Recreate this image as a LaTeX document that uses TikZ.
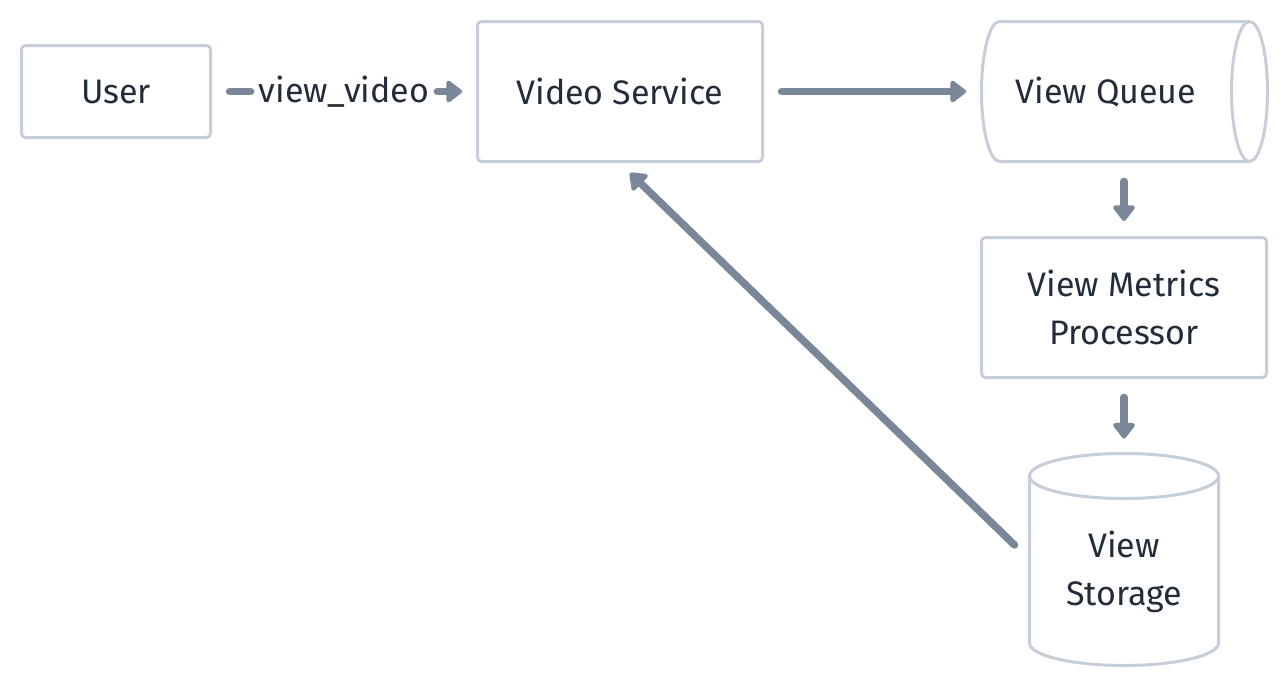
\documentclass[tikz,border=0pt]{standalone}
\usepackage{fontspec}
\setmainfont{Fira Sans}
\usetikzlibrary{arrows.meta,calc}
\definecolor{bordc}{HTML}{C6CFD9}
\definecolor{arrc}{HTML}{7A8798}
\definecolor{txtc}{HTML}{232D3A}
\begin{document}
\begin{tikzpicture}[x=1pt,y=-1pt,
  every node/.style={font=\fontsize{34}{48}\selectfont, text=txtc},
  box/.style={draw=bordc, line width=3pt, rounded corners=4pt, fill=white, align=center, inner sep=0pt},
  ghost/.style={draw=none, line width=3pt, inner sep=0pt},
  cyl/.style={draw=bordc, line width=3pt},
  seg/.style={draw=arrc, line width=7.5pt, line cap=round},
  conn/.style={seg, -{Triangle[width=25pt,length=17pt,round]}}
]
\useasboundingbox (0,0) rectangle (1288,688);
\fill[white] (0,0) rectangle (1288,688);

\node[box, minimum width=189pt, minimum height=92pt] (user) at (116,91.5) {User};
\node[box, minimum width=285pt, minimum height=140pt] (video) at (620,91.5) {Video Service};
\node[box, minimum width=285pt, minimum height=140pt] (proc) at (1124,307.5) {View Metrics\\Processor};

% View Queue cylinder (horizontal)
\draw[cyl] (1249.5,21.5) -- (999.5,21.5) arc[start angle=270,end angle=90,x radius=18,y radius=70] -- (1249.5,161.5);
\draw[cyl] (1249.5,91.5) ellipse[x radius=18,y radius=70];
\node[ghost, minimum width=285pt, minimum height=140pt, label={[xshift=-18pt]center:View Queue}] (queue) at (1124,91.5) {};

% View Storage cylinder (vertical)
\draw[cyl] (1029.5,476) -- (1029.5,643) arc[start angle=180,end angle=0,x radius=94.5,y radius=22.5] -- (1218.5,476);
\draw[cyl] (1124,476) ellipse[x radius=94.5,y radius=22.5];
\node[ghost, minimum width=186pt, minimum height=209pt, label={[align=center,yshift=-12pt]center:View\\Storage}] (storage) at (1124,559.5) {};

\node[inner sep=0pt] (lbl) at ($(user.east)!0.5!(video.west)$) {view\_video};

\coordinate (stout) at (1014.5,545);
\coordinate (vsin) at (630,173);

\draw[seg, shorten <=17.5pt, shorten >=8pt] (user.east) -- (lbl.west);
\draw[conn, shorten <=8pt, shorten >=14pt] (lbl.east) -- (video.west);
\draw[conn, shorten <=17.5pt, shorten >=14pt] (video) -- (queue);
\draw[conn, shorten <=18.5pt, shorten >=15pt] (queue.south) -- (proc.north);
\draw[conn, shorten <=18.5pt, shorten >=15pt] (proc.south) -- (storage.north);
\draw[conn] (stout) -- (vsin);
\end{tikzpicture}
\end{document}
